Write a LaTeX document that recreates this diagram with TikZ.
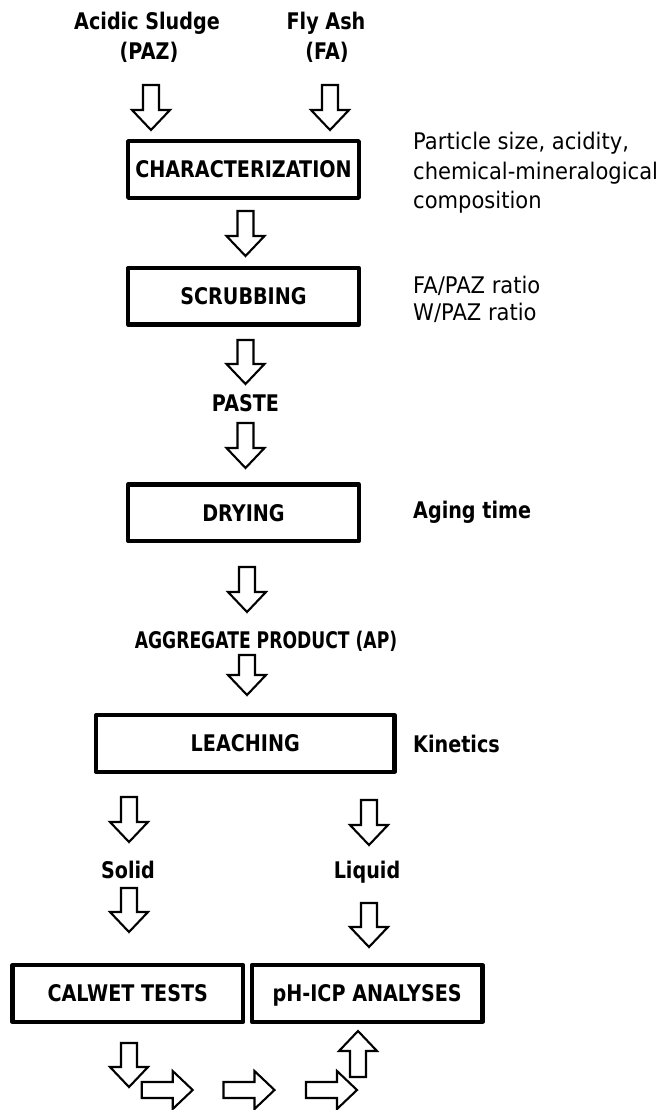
\documentclass[tikz,border=0pt]{standalone}
\usepackage{fontspec}
\setmainfont{DejaVu Sans}[FakeStretch=0.837]
\newfontfamily\notefont{DejaVu Sans}[FakeStretch=0.92]
\newfontfamily\narrowfont{DejaVu Sans}[FakeStretch=0.75]
\begin{document}
\begin{tikzpicture}[x=1pt,y=-1pt,
  box/.style={draw, line width=4.3pt, line join=round, inner sep=0pt,
    minimum width=230.6pt, minimum height=56.5pt,
    font=\fontsize{22.9}{28}\selectfont\bfseries, text height=16.7pt, text depth=0pt},
  lab/.style={anchor=base, inner sep=0pt, font=\fontsize{22.9}{28}\selectfont\bfseries},
  note/.style={anchor=base west, inner sep=0pt, font=\notefont\fontsize{22.9}{29}\selectfont},
  bnote/.style={anchor=base west, inner sep=0pt, font=\fontsize{22.9}{28}\selectfont\bfseries},
  arrowline/.style={draw=black, line width=2.1pt, line join=miter, fill=white},
  pics/barrow/.style={code={
    \draw[arrowline] (-8,0) -- (-8,{#1-20}) -- (-19,{#1-20}) -- (0,#1)
      -- (19,{#1-20}) -- (8,{#1-20}) -- (8,0) -- cycle;}}
]
\useasboundingbox (0,0) rectangle (656,1110);

% inputs
\node[lab] (paz1) at (147,30) {Acidic Sludge};
\node[lab] (paz2) at (149,60) {(PAZ)};
\node[lab] (fa1) at (326,30) {Fly Ash};
\node[lab] (fa2) at (327,60) {(FA)};

% boxes
\node[box] (char) at (243.5,169.5) {CHARACTERIZATION};
\node[box] (scrub) at (243.5,296.3) {SCRUBBING};
\node[box] (dry) at (243.5,512.7) {DRYING};
\node[box, minimum width=298.4pt] (leach) at (245.3,743.5) {LEACHING};
\node[box] (calwet) at (127.8,993.5) {CALWET TESTS};
\node[box] (ph) at (367.2,993.5) {pH-ICP ANALYSES};

% intermediate labels
\node[lab] (paste) at (245.5,411.5) {PASTE};
\node[lab, font=\narrowfont\fontsize{22.9}{28}\selectfont\bfseries] (ap) at (266,648) {AGGREGATE PRODUCT (AP)};
\node[lab] (solid) at (128,878) {Solid};
\node[lab] (liquid) at (367,878) {Liquid};

% annotations
\node[note] (n1) at (413,150) {Particle size, acidity,};
\node[note] (n2) at (413,179) {chemical-mineralogical};
\node[note] (n3) at (413,208) {composition};
\node[note] (n4) at (413,293) {FA/PAZ ratio};
\node[note] (n5) at (413,320) {W/PAZ ratio};
\node[bnote] (n6) at (413,518) {Aging time};
\node[bnote] (n7) at (413,752) {Kinetics};

% block arrows
\pic at (151,85) {barrow=45};
\pic at (330,85) {barrow=45};
\pic at (245.5,211) {barrow=45};
\pic at (245.5,340) {barrow=44};
\pic at (245.5,423) {barrow=45};
\pic at (247,567) {barrow=45};
\pic at (247,655) {barrow=40};
\pic at (129,797) {barrow=45};
\pic at (369,800) {barrow=45};
\pic at (129,888) {barrow=44};
\pic at (369,903) {barrow=44};
\pic at (129,1043) {barrow=44};
\pic[rotate=90] at (141.7,1090) {barrow=51};
\pic[rotate=90] at (223.5,1090) {barrow=51};
\pic[rotate=90] at (306,1090) {barrow=51};
\pic[rotate=180] at (358,1077) {barrow=46};
\end{tikzpicture}
\end{document}
